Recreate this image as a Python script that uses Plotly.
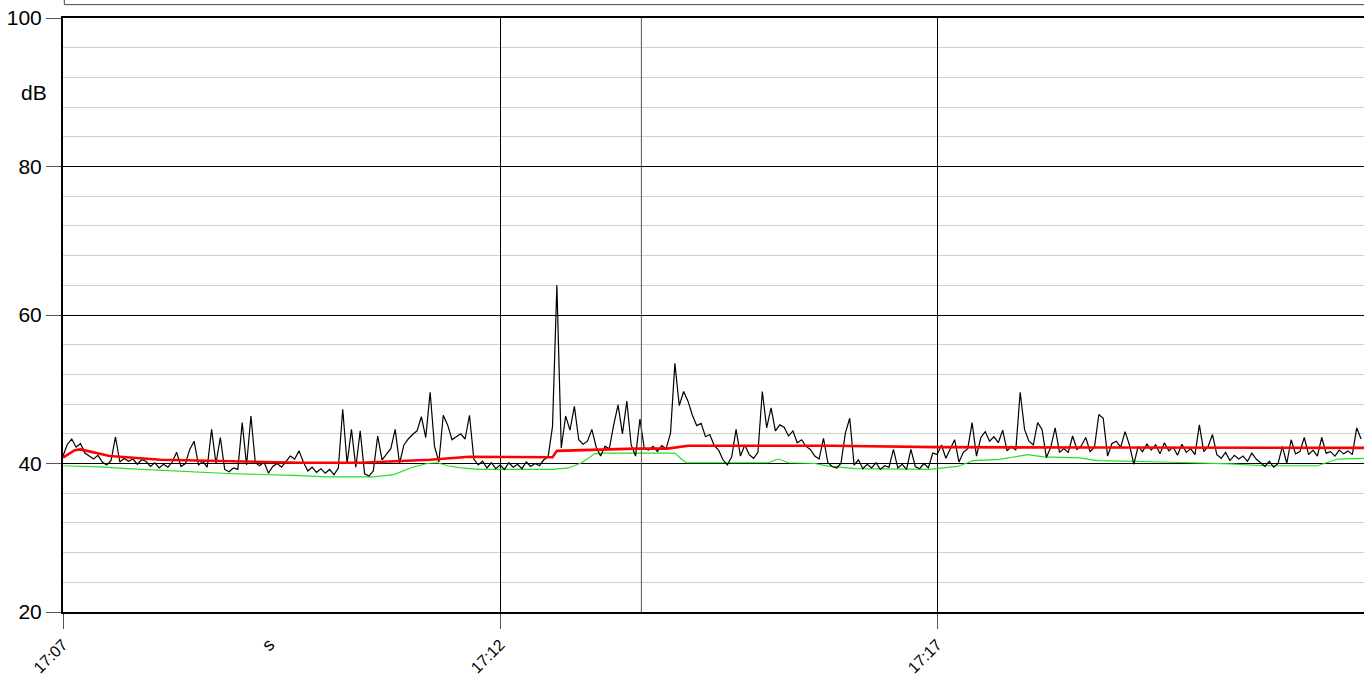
import pandas as pd
import plotly.graph_objects as go

START = "2024-01-01 17:07:00"
STEP_S = 3  # sampling step of the level series (seconds)

# Short-term level (black), one value every 3 s from 17:07:00
level_db = [
    41.0, 42.6, 43.3, 42.2, 42.7, 41.4, 41.0, 40.6, 41.1, 40.2,
    39.8, 40.4, 43.6, 40.2, 40.7, 40.3, 40.6, 39.9, 40.5, 40.3,
    39.6, 40.1, 39.4, 39.9, 39.5, 40.2, 41.5, 39.6, 40.0, 41.9,
    43.0, 39.8, 40.3, 39.5, 44.6, 40.0, 43.5, 39.2, 38.9, 39.4,
    39.2, 45.5, 39.8, 46.4, 40.1, 39.7, 40.2, 38.7, 39.6, 40.0,
    39.5, 40.3, 41.0, 40.6, 41.7, 40.2, 39.0, 39.5, 38.8, 39.3,
    38.7, 39.2, 38.5, 39.4, 47.3, 40.0, 44.6, 39.5, 44.4, 38.6,
    38.3, 39.0, 43.7, 40.5, 41.2, 42.0, 44.6, 40.0, 42.5, 43.3,
    43.9, 44.4, 46.3, 43.5, 49.6, 42.3, 40.2, 46.5, 45.2, 43.2,
    43.6, 44.0, 43.3, 46.5, 40.6, 39.8, 40.3, 39.4, 40.1, 39.3,
    39.8, 39.2, 40.1, 39.5, 39.9, 39.3, 40.2, 39.6, 40.0, 39.7,
    40.5, 40.9, 45.0, 64.0, 42.1, 46.4, 44.5, 47.7, 43.2, 42.6,
    43.0, 44.6, 42.2, 41.0, 42.3, 42.0, 45.2, 47.9, 44.0, 48.4,
    42.5, 41.0, 46.0, 42.0, 41.8, 42.3, 41.6, 42.4, 42.0, 44.1,
    53.5, 47.8, 49.7, 48.4, 46.5, 45.1, 45.4, 43.6, 43.9, 42.4,
    41.8, 40.5, 39.8, 40.9, 44.6, 41.0, 42.5, 41.2, 40.7, 41.5,
    49.7, 44.8, 47.5, 44.4, 45.2, 44.9, 43.7, 44.4, 42.8, 43.2,
    42.3, 41.9, 41.0, 40.6, 43.4, 40.1, 39.6, 39.4, 40.0, 44.1,
    46.1, 39.8, 40.5, 39.3, 39.9, 39.4, 40.1, 39.2, 39.7, 39.5,
    41.9, 39.4, 39.9, 39.2, 41.9, 39.6, 39.3, 40.0, 39.4, 41.4,
    41.2, 42.5, 40.7, 42.0, 43.2, 40.2, 41.5, 42.0, 45.5, 41.0,
    43.5, 44.3, 43.0, 43.6, 42.8, 44.5, 41.7, 42.3, 41.8, 49.6,
    44.6, 43.0, 42.5, 45.5, 44.6, 40.8, 42.2, 44.8, 41.5, 42.0,
    41.5, 43.7, 41.9, 42.4, 43.5, 41.6, 42.2, 46.6, 46.1, 41.0,
    42.7, 43.0, 42.2, 44.3, 42.5, 39.9, 42.3, 41.6, 42.6, 41.8,
    42.5, 41.3, 42.8, 41.7, 42.2, 41.1, 42.6, 41.5, 42.0, 41.2,
    45.2, 41.6, 42.3, 43.9, 41.2, 40.7, 41.5, 40.4, 41.1, 40.6,
    41.0, 40.3, 41.4, 40.6, 40.1, 39.6, 40.3, 39.5, 40.0, 42.3,
    40.0, 43.2, 41.3, 41.6, 43.5, 41.2, 41.8, 41.0, 43.5, 41.4,
    41.6, 41.0, 41.8, 41.3, 41.7, 41.2, 44.8, 43.3,
]

# Running Leq (red): seconds after 17:07:00, dB
leq_s = [0, 8, 12, 22, 32, 67, 113, 163, 204, 227, 252, 279, 300, 336, 339,
         369, 393, 415, 429, 527, 599, 712, 893]
leq_db = [40.8, 41.8, 41.9, 41.4, 41.0, 40.5, 40.3, 40.1, 40.1, 40.3, 40.5,
          40.9, 40.85, 40.85, 41.7, 41.9, 42.0, 42.0, 42.4, 42.4, 42.2, 42.15, 42.1]

# Background level (green): seconds after 17:07:00, dB
bg_s = [0, 25, 44, 89, 113, 158, 181, 213, 227, 240, 250, 257, 264, 273, 286,
        336, 347, 356, 365, 370, 420, 425, 428, 484, 491, 498, 516, 525, 544,
        595, 614, 625, 643, 662, 673, 698, 710, 755, 801, 824, 861, 875, 893]
bg_db = [39.7, 39.55, 39.3, 38.9, 38.65, 38.4, 38.2, 38.2, 38.5, 39.5, 40.0, 40.1,
         39.7, 39.4, 39.2, 39.2, 39.4, 40.1, 41.3, 41.4, 41.4, 40.5, 40.1, 40.1,
         40.6, 40.1, 40.0, 39.65, 39.3, 39.2, 39.6, 40.4, 40.55, 41.2, 40.9, 40.75,
         40.4, 40.2, 39.95, 39.7, 39.7, 40.6, 40.7]

x_tick_times = ["17:07", "17:12", "17:17"]
y_tick_vals = [20, 40, 60, 80, 100]
cursor_time = "17:13:37"
END_S = 893

t0 = pd.Timestamp(START)
level_t = [t0 + pd.Timedelta(seconds=STEP_S * i) for i in range(len(level_db))]
leq_t = [t0 + pd.Timedelta(seconds=s) for s in leq_s]
bg_t = [t0 + pd.Timedelta(seconds=s) for s in bg_s]
tickvals = [pd.Timestamp("2024-01-01 " + h) for h in x_tick_times]
cursor = pd.Timestamp("2024-01-01 " + cursor_time)
t_end = t0 + pd.Timedelta(seconds=END_S)

FONT = "Liberation Sans, Arial, sans-serif"

fig = go.Figure()
fig.add_trace(go.Scatter(x=bg_t, y=bg_db, mode="lines",
                         line=dict(color="#22e022", width=1.2), hoverinfo="skip"))
fig.add_trace(go.Scatter(x=level_t, y=level_db, mode="lines",
                         line=dict(color="#000000", width=1.2), hoverinfo="skip"))
fig.add_trace(go.Scatter(x=leq_t, y=leq_db, mode="lines",
                         line=dict(color="#ff0000", width=2.6), hoverinfo="skip"))

fig.update_layout(
    width=1364, height=678,
    margin=dict(l=63, r=0, t=18, b=66, autoexpand=False),
    paper_bgcolor="white", plot_bgcolor="white",
    showlegend=False,
    font=dict(family=FONT, size=18, color="black"),
)

fig.update_xaxes(
    type="date", range=[t0, t_end], automargin=False,
    tickvals=tickvals, ticktext=x_tick_times, tickangle=-45,
    ticks="outside", ticklen=15, tickcolor="#555", tickwidth=1,
    ticklabelstandoff=0,
    showgrid=True, gridcolor="#000000", gridwidth=1,
    showline=True, linecolor="#000000", linewidth=2, mirror=True,
    tickfont=dict(family=FONT, size=16),
    zeroline=False,
)
fig.update_yaxes(
    range=[20, 100], tickvals=y_tick_vals, automargin=False,
    ticks="outside", ticklen=15, tickcolor="#555", tickwidth=1,
    showgrid=True, gridcolor="#000000", gridwidth=1,
    minor=dict(dtick=4, tick0=20, showgrid=True, gridcolor="#cfcfcf", gridwidth=1),
    showline=True, linecolor="#000000", linewidth=2,
    tickfont=dict(family=FONT, size=21),
    zeroline=False,
)

# cursor line
fig.add_shape(type="line", xref="x", yref="paper", x0=cursor, x1=cursor, y0=0, y1=1,
              line=dict(color="#555555", width=1))
# top box (cut-off legend frame)
fig.add_shape(type="rect", xref="paper", yref="paper", x0=0.001, x1=1.02, y0=1.0225, y1=1.2,
              line=dict(color="#444444", width=1), fillcolor="rgba(0,0,0,0)")

fig.add_annotation(text="dB", xref="paper", yref="y", x=0, y=90, xanchor="right",
                   yanchor="middle", xshift=-14, showarrow=False,
                   font=dict(family=FONT, size=21))
fig.add_annotation(text="s", xref="paper", yref="paper", x=0.1576, y=-0.056,
                   xanchor="center", yanchor="middle",
                   textangle=-45, showarrow=False, font=dict(family=FONT, size=18))

fig.write_html("out.html", config={"displayModeBar": False})
